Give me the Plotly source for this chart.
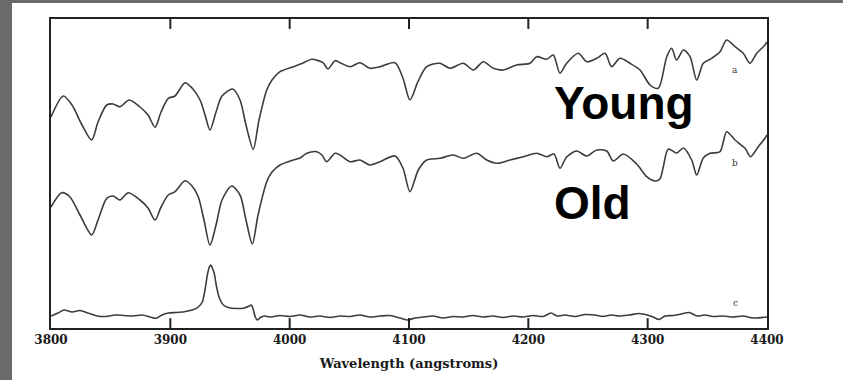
import plotly.graph_objects as go

# Composite galaxy spectra, 3800-4400 angstroms (relative flux, offset for display)
wave_a = [3800.0, 3810.3, 3817.6, 3826.0, 3834.1, 3839.4, 3846.7, 3852.0, 3857.8, 3865.6,
          3874.6, 3881.3, 3887.2, 3892.2, 3898.3, 3903.9, 3912.3, 3918.2, 3924.9, 3929.1,
          3933.2, 3938.3, 3943.3, 3952.3, 3958.4, 3963.4, 3969.5, 3974.3, 3980.8, 3985.2,
          3991.9, 4003.0, 4011.2, 4018.5, 4027.9, 4032.1, 4038.0, 4042.2, 4050.6, 4058.9,
          4067.3, 4075.7, 4088.3, 4094.9, 4100.8, 4107.5, 4114.8, 4125.9, 4134.4, 4145.5,
          4153.9, 4162.3, 4170.6, 4179.0, 4190.2, 4201.4, 4207.0, 4215.4, 4220.9, 4226.5,
          4232.1, 4241.9, 4248.9, 4257.3, 4264.3, 4269.8, 4276.8, 4285.2, 4293.6, 4302.0,
          4308.9, 4316.0, 4320.1, 4324.3, 4329.9, 4335.5, 4341.1, 4346.6, 4353.6, 4360.6,
          4366.2, 4373.2, 4380.1, 4385.7, 4391.4, 4398.3, 4400.0]
flux_a = [2.11, 2.32, 2.23, 2.03, 1.88, 2.06, 2.23, 2.24, 2.213, 2.28,
          2.21, 2.13, 2.007, 2.16, 2.297, 2.32, 2.453, 2.40, 2.28, 2.13,
          1.98, 2.16, 2.32, 2.39, 2.28, 2.03, 1.787, 2.08, 2.38, 2.48,
          2.563, 2.613, 2.65, 2.687, 2.653, 2.59, 2.673, 2.653, 2.613, 2.653,
          2.597, 2.613, 2.653, 2.50, 2.28, 2.463, 2.613, 2.647, 2.597, 2.647,
          2.58, 2.663, 2.597, 2.58, 2.63, 2.647, 2.713, 2.687, 2.73, 2.547,
          2.647, 2.747, 2.663, 2.697, 2.747, 2.613, 2.697, 2.647, 2.58, 2.43,
          2.397, 2.713, 2.797, 2.68, 2.78, 2.713, 2.48, 2.647, 2.697, 2.763,
          2.88, 2.813, 2.747, 2.647, 2.747, 2.83, 2.86]

wave_b = [3800.0, 3809.0, 3815.9, 3824.3, 3834.1, 3839.4, 3846.7, 3852.0, 3857.8, 3864.8,
          3874.6, 3881.3, 3887.2, 3892.2, 3898.3, 3903.9, 3912.3, 3918.2, 3923.4, 3928.2,
          3933.2, 3938.3, 3943.3, 3951.4, 3958.4, 3963.4, 3968.7, 3973.5, 3980.8, 3985.2,
          3991.9, 4003.0, 4008.7, 4014.3, 4022.7, 4027.1, 4031.0, 4038.0, 4042.2, 4050.6,
          4058.9, 4067.3, 4075.7, 4088.3, 4094.9, 4100.8, 4107.8, 4114.8, 4126.0, 4137.1,
          4145.5, 4156.7, 4165.1, 4173.5, 4184.6, 4195.8, 4207.0, 4215.4, 4221.5, 4226.5,
          4232.1, 4240.5, 4248.9, 4257.3, 4265.7, 4271.2, 4279.6, 4290.8, 4299.2, 4306.2,
          4310.3, 4313.1, 4317.3, 4324.3, 4329.9, 4336.9, 4341.1, 4346.6, 4352.2, 4360.6,
          4366.2, 4373.2, 4381.6, 4386.3, 4392.7, 4398.3, 4400.0]
flux_b = [1.21, 1.353, 1.31, 1.13, 0.93, 1.08, 1.297, 1.32, 1.28, 1.353,
          1.28, 1.20, 1.08, 1.21, 1.33, 1.363, 1.473, 1.42, 1.313, 1.08,
          0.83, 1.03, 1.28, 1.42, 1.33, 1.08, 0.84, 1.13, 1.463, 1.56,
          1.63, 1.68, 1.70, 1.747, 1.763, 1.73, 1.663, 1.747, 1.73, 1.663,
          1.68, 1.63, 1.663, 1.72, 1.60, 1.363, 1.58, 1.68, 1.697, 1.73,
          1.697, 1.747, 1.68, 1.647, 1.68, 1.713, 1.747, 1.713, 1.74, 1.597,
          1.71, 1.77, 1.72, 1.78, 1.77, 1.67, 1.74, 1.64, 1.513, 1.47,
          1.49, 1.613, 1.79, 1.75, 1.80, 1.68, 1.53, 1.70, 1.747, 1.763,
          1.963, 1.88, 1.797, 1.713, 1.813, 1.897, 1.93]

wave_c = [3800.0, 3805.9, 3810.9, 3817.6, 3824.3, 3831.0, 3838.6, 3846.1, 3853.7, 3861.2,
          3868.7, 3876.3, 3883.0, 3888.0, 3893.0, 3898.3, 3905.0, 3911.7, 3918.4, 3923.4,
          3926.8, 3929.3, 3931.0, 3932.7, 3933.9, 3935.2, 3936.9, 3938.6, 3941.1, 3944.4,
          3948.6, 3955.3, 3962.0, 3966.2, 3967.9, 3969.6, 3971.2, 3972.9, 3975.4, 3978.8,
          3984.2, 3991.9, 4000.2, 4008.7, 4017.0, 4025.4, 4033.8, 4042.2, 4050.6, 4058.9,
          4067.3, 4075.7, 4084.1, 4092.4, 4099.2, 4105.0, 4111.7, 4120.1, 4128.5, 4136.9,
          4145.2, 4153.6, 4162.0, 4170.4, 4178.8, 4187.1, 4195.5, 4203.9, 4212.3, 4219.0,
          4224.0, 4230.7, 4239.1, 4247.5, 4255.9, 4262.6, 4269.3, 4276.0, 4284.4, 4292.8,
          4299.5, 4304.5, 4309.6, 4314.6, 4321.3, 4328.0, 4334.7, 4341.4, 4348.1, 4354.8,
          4363.2, 4371.6, 4380.0, 4388.4, 4400.0]
flux_c = [0.12, 0.15, 0.18, 0.16, 0.175, 0.15, 0.12, 0.115, 0.13, 0.125,
          0.12, 0.13, 0.11, 0.097, 0.13, 0.15, 0.155, 0.163, 0.18, 0.21,
          0.26, 0.40, 0.53, 0.61, 0.63, 0.60, 0.54, 0.42, 0.30, 0.23,
          0.205, 0.195, 0.20, 0.22, 0.23, 0.18, 0.11, 0.08, 0.105, 0.12,
          0.11, 0.125, 0.115, 0.13, 0.11, 0.12, 0.105, 0.12, 0.115, 0.13,
          0.11, 0.12, 0.125, 0.10, 0.08, 0.10, 0.11, 0.12, 0.10, 0.115,
          0.11, 0.125, 0.11, 0.12, 0.105, 0.12, 0.11, 0.125, 0.115, 0.15,
          0.12, 0.13, 0.115, 0.135, 0.13, 0.115, 0.13, 0.12, 0.13, 0.145,
          0.13, 0.11, 0.085, 0.12, 0.125, 0.14, 0.155, 0.12, 0.13, 0.115,
          0.12, 0.11, 0.12, 0.10, 0.11]

tick_vals = [3800, 3900, 4000, 4100, 4200, 4300, 4400]
tick_text = ["3800", "3900", "4000", "4100", "4200", "4300", "4400"]

LINE = "#3c3c3c"
FRAME = "#222222"
BAND = "#6a6a6a"

fig = go.Figure()
for w, f in [(wave_a, flux_a), (wave_b, flux_b), (wave_c, flux_c)]:
    fig.add_trace(go.Scatter(x=w, y=f, mode="lines",
                             line=dict(color=LINE, width=1.6, shape="spline", smoothing=0.8),
                             hoverinfo="skip", showlegend=False))

# curve letters near the right edge
for letter, yv in [("a", 2.58), ("b", 1.65), ("c", 0.25)]:
    fig.add_annotation(x=4373.2, y=yv, text=letter, showarrow=False,
                       font=dict(family="DejaVu Serif", size=9, color="#333"))

# age labels
for word, yv in [("Young", 2.255), ("Old", 1.255)]:
    fig.add_annotation(x=4219.8, y=yv, text=word, showarrow=False,
                       xanchor="left", yanchor="middle",
                       font=dict(family="Liberation Sans, Arial", size=46,
                                 color="black", weight="bold"))

# grey frame strips along the left and top of the page
fig.add_shape(type="rect", xref="paper", yref="paper",
              x0=-0.0712, x1=-0.0545, y0=-0.1683, y1=1.0615,
              fillcolor=BAND, line_width=0, layer="above")
fig.add_shape(type="rect", xref="paper", yref="paper",
              x0=-0.0712, x1=1.1061, y0=1.0518, y1=1.0615,
              fillcolor=BAND, line_width=0, layer="above")

# inner tick marks at the top and bottom of the frame
for tv in tick_vals[1:-1]:
    fig.add_shape(type="line", xref="x", yref="paper", x0=tv, x1=tv, y0=0, y1=0.032,
                  line=dict(color=FRAME, width=2))
    fig.add_shape(type="line", xref="x", yref="paper", x0=tv, x1=tv, y0=0.968, y1=1,
                  line=dict(color=FRAME, width=2))

fig.update_layout(
    width=843, height=380,
    margin=dict(l=51, r=76, t=19, b=52),
    paper_bgcolor="white", plot_bgcolor="white",
    xaxis=dict(range=[3800, 4400], tickvals=tick_vals, ticktext=tick_text,
               ticks="", showline=True, linecolor=FRAME, linewidth=2, mirror=True,
               showgrid=False, zeroline=False,
               tickfont=dict(family="DejaVu Serif", size=12, color="#1a1a1a", weight="bold"),
               title=dict(text="Wavelength (angstroms)", standoff=12,
                          font=dict(family="DejaVu Serif", size=13, color="#1a1a1a",
                                    weight="bold"))),
    yaxis=dict(range=[0, 3.09], showticklabels=False, ticks="",
               showline=True, linecolor=FRAME, linewidth=2, mirror=True,
               showgrid=False, zeroline=False),
)

fig.write_html("out.html")
